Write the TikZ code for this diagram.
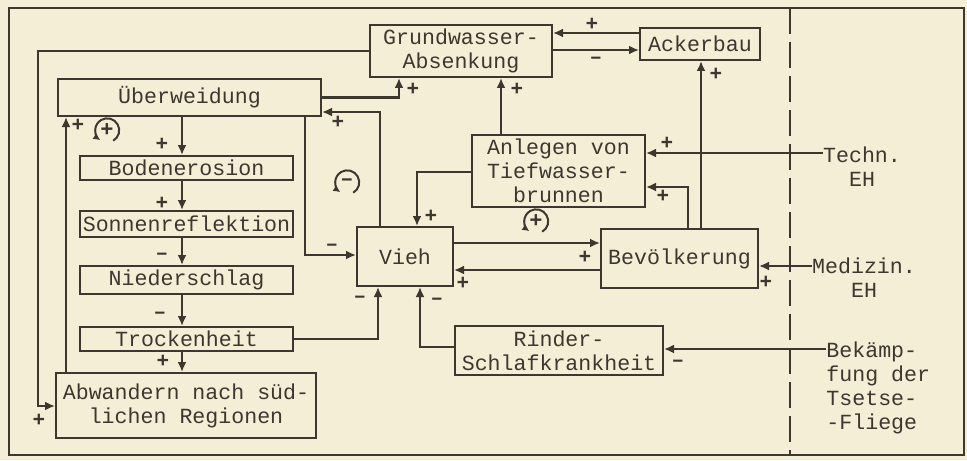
\documentclass[tikz,border=0pt]{standalone}
\usepackage{fontspec}
\setmonofont{Liberation Mono}
\usetikzlibrary{arrows.meta,positioning}
\definecolor{paper}{RGB}{245,238,214}
\definecolor{ink}{RGB}{60,56,48}

\begin{document}
\begin{tikzpicture}[
  x=0.5pt, y=-0.5pt,
  font=\ttfamily\fontsize{10.8}{12}\selectfont,
  box/.style={draw=ink, line width=1pt, align=center, inner sep=0pt, text=ink},
  lbl/.style={align=center, inner sep=0pt, text=ink},
  sgn/.style={inner sep=0pt, text=ink, font=\ttfamily\bfseries\fontsize{10.5}{10.5}\selectfont},
  arr/.style={draw=ink, line width=1pt, -{Latex[length=5pt,width=4.5pt]}},
  loopsym/.style={circle, minimum size=12pt, inner sep=0pt, text=ink,
                  font=\ttfamily\bfseries\fontsize{11}{11}\selectfont},
  looparr/.style={draw=ink, line width=1pt, -{Latex[length=3.5pt,width=3.5pt]}}
]
% paper, frame and border line
\fill[paper] (0,0) rectangle (967,460);
\draw[ink, line width=0.9pt] (9,8) rectangle (964,455);
\draw[ink, line width=0.9pt, dash pattern=on 13pt off 4pt] (790,8) -- (790,455);
% left column
\node[box, minimum width=131.5pt, minimum height=18.5pt] (ueber) at (189.5,97.5) {Überweidung};
\node[box, minimum width=106.5pt, minimum height=12pt] (boden) at (186.5,168) {Bodenerosion};
\node[box, minimum width=106.5pt, minimum height=13pt, below=14.5pt of boden] (sonne) {Sonnenreflektion};
\node[box, minimum width=106.5pt, minimum height=14pt, below=13.5pt of sonne] (nieder) {Niederschlag};
\node[box, minimum width=106.5pt, minimum height=12pt, below=15.5pt of nieder] (trocken) {Trockenheit};
\node[box, minimum width=130pt, minimum height=32.5pt] (abw) at (186,405.5) {Abwandern nach süd-\\lichen Regionen};
% middle and right
\node[box, minimum width=91pt, minimum height=26pt] (gw) at (461,51) {Grundwasser-\\Absenkung};
\node[box, minimum width=60pt, minimum height=16pt] (acker) at (700,44) {Ackerbau};
\node[box, minimum width=86.5pt, minimum height=36pt] (brunnen) at (558.5,171) {Anlegen von\\Tiefwasser-\\brunnen};
\node[box, minimum width=48pt, minimum height=29.5pt] (vieh) at (405,256.5) {Vieh};
\node[box, minimum width=78.5pt, minimum height=29.5pt] (bev) at (679.5,258.5) {Bevölkerung};
\node[box, minimum width=104pt, minimum height=24.5pt] (rinder) at (559,350.5) {Rinder-\\Schlafkrankheit};
% outside influences
\node[lbl] (techn) at (862,167) {Techn.\\EH};
\node[lbl] (med) at (864,278) {Medizin.\\EH};
\node[lbl, align=left, anchor=north west] (bek) at (826,341) {Bekämp-\\fung der\\Tsetse-\\-Fliege};
% chain
\draw[arr] (182,0 |- ueber.south) -- (182,0 |- boden.north) node[sgn, at end, xshift=-10pt, yshift=5.5pt] {+};
\draw[arr] (182,0 |- boden.south) -- (182,0 |- sonne.north) node[sgn, at end, xshift=-10pt, yshift=3.5pt] {+};
\draw[arr] (182,0 |- sonne.south) -- (182,0 |- nieder.north) node[sgn, at end, xshift=-10pt, yshift=4.5pt] {–};
\draw[arr] (182,0 |- nieder.south) -- (182,0 |- trocken.north) node[sgn, at end, xshift=-11pt, yshift=5.5pt] {–};
\draw[arr] (182,0 |- trocken.south) -- (182,0 |- abw.north) node[sgn, at end, xshift=-9.5pt, yshift=5.5pt] {+};
% feedback on the left
\draw[arr] (gw.west) -- (38,0 |- gw.west) |- (abw.west |- 0,406) node[sgn, at end, xshift=-8pt, yshift=-7pt] {+};
\draw[arr] (66,0 |- abw.north) -- (66,0 |- ueber.south) node[sgn, at end, xshift=6pt, yshift=-4pt] {+};
\draw[arr] (ueber.east) -| (399,0 |- gw.south) node[sgn, at end, xshift=7pt, yshift=-5.5pt] {+};
\draw[arr] (380,0 |- vieh.north) |- (ueber.east |- 0,112) node[sgn, at end, xshift=8pt, yshift=-5pt] {+};
\draw[arr] (305,0 |- ueber.south) |- (vieh.west |- 0,255) node[sgn, at end, xshift=-12pt, yshift=4pt] {–};
\draw[arr] (trocken.east) -| (378,0 |- vieh.south) node[sgn, at end, xshift=-9pt, yshift=-6pt] {–};
% water and fields
\draw[arr] (501,0 |- brunnen.north) -- (501,0 |- gw.south) node[sgn, at end, xshift=8pt, yshift=-5.5pt] {+};
\draw[arr] (acker.west |- 0,33) -- (gw.east |- 0,33) node[sgn, midway, xshift=-2pt, yshift=4.5pt] {+};
\draw[arr] (gw.east |- 0,50) -- (acker.west |- 0,50) node[sgn, midway, yshift=-5pt] {–};
\draw[arr] (701,0 |- bev.north) -- (701,0 |- acker.south) node[sgn, at end, xshift=7.5pt, yshift=-6.5pt] {+};
\draw[arr] (688,0 |- bev.north) |- (brunnen.east |- 0,187) node[sgn, at end, xshift=8.5pt, yshift=-4.5pt] {+};
\draw[arr] (brunnen.west |- 0,172) -| (417,0 |- vieh.north) node[sgn, at end, xshift=7pt, yshift=5pt] {+};
% Vieh and Bevoelkerung
\draw[arr] (vieh.east |- 0,243) -- (bev.west |- 0,243) node[sgn, at end, xshift=-7.5pt, yshift=-7pt] {+};
\draw[arr] (bev.west |- 0,270) -- (vieh.east |- 0,270) node[sgn, at end, xshift=4.5pt, yshift=-6.5pt] {+};
\draw[arr] (rinder.west |- 0,347) -| (420,0 |- vieh.south) node[sgn, at end, xshift=8.5pt, yshift=-7pt] {–};
% outside arrows
\draw[arr] (techn.west |- 0,153) -- (brunnen.east |- 0,153) node[sgn, at end, xshift=10.5pt, yshift=5pt] {+};
\draw[arr] (med.west |- 0,266) -- (bev.east |- 0,266) node[sgn, at end, xshift=3.5pt, yshift=-8pt] {+};
\draw[arr] (bek.west |- 0,349) -- (rinder.east |- 0,349) node[sgn, at end, xshift=7pt, yshift=-7pt] {–};
% loops
\node[loopsym] (lp1) at (107,130) {+};
\draw[looparr] (lp1.-60) arc[start angle=-60, end angle=235, radius=6pt];
\node[loopsym] (lp2) at (347,182) {–};
\draw[looparr] (lp2.-60) arc[start angle=-60, end angle=235, radius=6pt];
\node[loopsym] (lp3) at (536,221) {+};
\draw[looparr] (lp3.-60) arc[start angle=-60, end angle=235, radius=6pt];
\end{tikzpicture}
\end{document}
